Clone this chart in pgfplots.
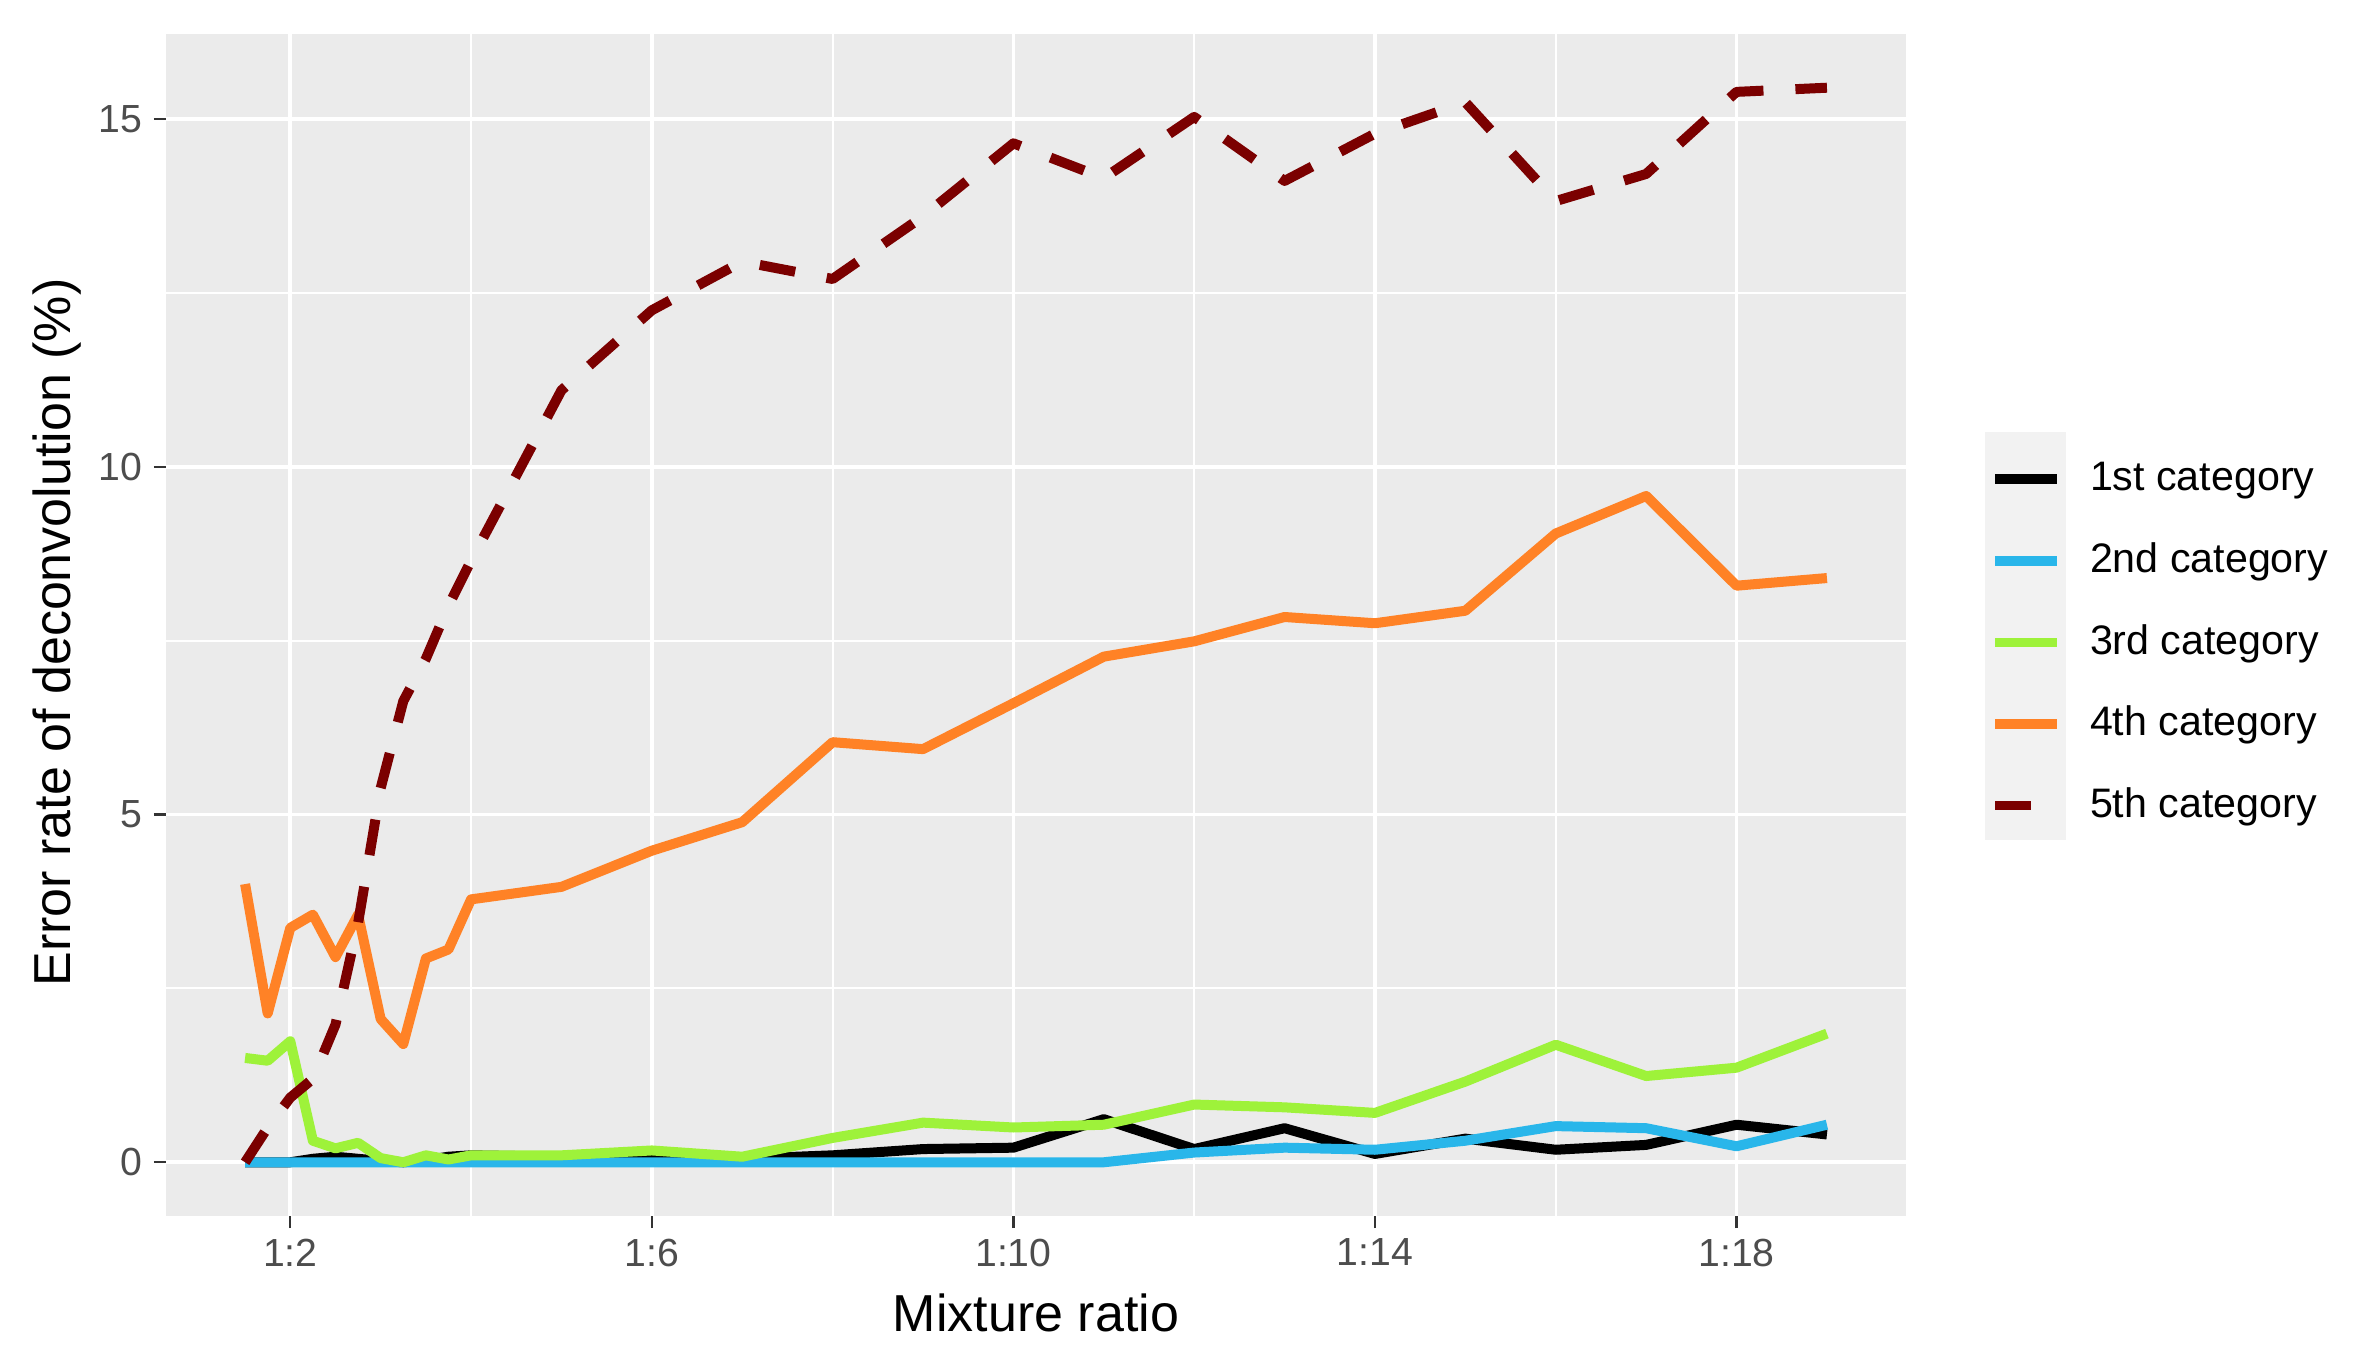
\documentclass[border=0pt]{standalone}
\usepackage{fontspec}
\setmainfont{Liberation Sans}
\usepackage{pgfplots}
\usepackage{pgfplotstable}
\pgfplotsset{compat=1.18}
\definecolor{panelbg}{HTML}{EBEBEB}
\definecolor{legendbg}{HTML}{F2F2F2}
\definecolor{tickgray}{HTML}{4D4D4D}
\definecolor{cblue}{HTML}{29B6EA}
\definecolor{cgreen}{HTML}{9EF23A}
\definecolor{corange}{HTML}{FF8226}
\definecolor{cdred}{HTML}{7B0000}

\pgfplotstableread{
x    c1   c2   c3   c4   c5
1.5  0    0    1.50 4.00 0
1.75 0    0    1.46 2.14 0.50
2    0    0    1.74 3.37 0.93
2.25 0.05 0    0.31 3.56 1.20
2.5  0.08 0    0.20 2.95 1.98
2.75 0.05 0    0.28 3.56 3.44
3    0.02 0    0.06 2.06 5.38
3.25 0    0    0.00 1.70 6.63
3.5  0.03 0    0.10 2.93 7.24
3.75 0.08 0    0.04 3.06 8.00
4    0.10 0    0.10 3.78 8.65
5    0.08 0    0.10 3.96 11.10
6    0.12 0    0.17 4.48 12.25
7    0.05 0    0.08 4.89 12.95
8    0.10 0    0.35 6.04 12.70
9    0.19 0    0.57 5.94 13.60
10   0.21 0    0.50 6.60 14.65
11   0.62 0    0.54 7.27 14.15
12   0.19 0.14 0.83 7.49 15.03
13   0.49 0.21 0.79 7.84 14.11
14   0.12 0.18 0.71 7.75 14.79
15   0.34 0.31 1.16 7.93 15.24
16   0.18 0.52 1.69 9.04 13.82
17   0.25 0.49 1.24 9.58 14.21
18   0.54 0.23 1.36 8.29 15.39
19   0.40 0.54 1.85 8.40 15.45
}\datatable

\begin{document}
\begin{tikzpicture}
\fill[white] (0,0) rectangle (590.25pt,340pt);
\useasboundingbox (0,0) rectangle (590.25pt,340pt);
\begin{axis}[
  at={(41.5pt,36pt)}, anchor=south west,
  scale only axis, width=435pt, height=295.5pt,
  xmin=0.625, xmax=19.875, ymin=-0.7725, ymax=16.2225,
  axis background/.style={fill=panelbg},
  axis line style={draw=none},
  xtick={2,6,10,14,18}, xticklabels={1:2,1:6,1:10,1:14,1:18},
  ytick={0,5,10,15}, yticklabels={0,5,10,15},
  minor xtick={4,8,12,16}, minor ytick={2.5,7.5,12.5},
  grid=both,
  major grid style={white, line width=0.9pt},
  minor grid style={white, line width=0.5pt},
  tick align=outside, xtick pos=left, ytick pos=left,
  major tick length=3pt, minor tick length=0pt,
  tick style={color=black!80, line width=0.6pt},
  tick label style={font=\fontsize{9.8}{11}\selectfont, text=tickgray},
  xticklabel style={anchor=north, inner sep=0pt, yshift=-2.55pt},
  yticklabel style={anchor=east, inner sep=0pt, xshift=-2.75pt},
  xlabel={Mixture ratio}, ylabel={Error rate of deconvolution (\%)},
  every axis x label/.style={at={(axis description cs:0.5,-0.0821)}, anchor=center,
    font=\fontsize{13}{16}\selectfont, text=black},
  every axis y label/.style={at={(axis description cs:-0.0626,0.4936)}, anchor=center, rotate=90,
    font=\fontsize{13}{16}\selectfont, text=black},
  legend style={at={(1.0454,0.66328)}, anchor=north west, draw=none, fill=none,
    inner sep=0pt, outer sep=0pt, row sep=0pt, column sep=6pt,
    nodes={inner sep=0pt}, font=\fontsize{10.3}{12}\selectfont, text=black},
  legend cell align=left,
  legend image code/.code={
    \fill[legendbg,draw=none,solid] (-2.5pt,-8.6pt) rectangle (17.75pt,11.8pt);
    \draw[line width=2.4pt] (0pt,0pt) -- (15.5pt,0pt);
  },
  line join=round,
]
\addplot[black, line width=2.5pt, mark=none] table[x=x,y=c1]{\datatable};
\addplot[cblue, line width=2.5pt, mark=none] table[x=x,y=c2]{\datatable};
\addplot[cgreen, line width=2.5pt, mark=none] table[x=x,y=c3]{\datatable};
\addplot[corange, line width=2.5pt, mark=none] table[x=x,y=c4]{\datatable};
\addplot[cdred, line width=2.5pt, mark=none, dash pattern=on 9pt off 8pt] table[x=x,y=c5]{\datatable};
\legend{1st category, 2nd category, 3rd category, 4th category, 5th category}
\end{axis}
\end{tikzpicture}
\end{document}
